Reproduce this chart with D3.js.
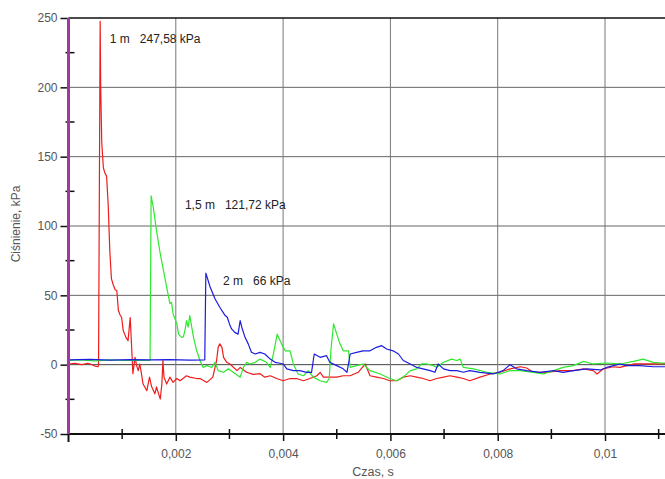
<!DOCTYPE html>
<html><head><meta charset="utf-8">
<script src="https://cdn.jsdelivr.net/npm/d3@7/dist/d3.min.js"></script>
<style>body{margin:0;background:#fff}svg{display:block}text{font-family:"Liberation Sans",Arial,sans-serif}</style>
</head><body><svg id="c" width="665" height="479"></svg>
<script>
// ---- data (time in s, pressure in kPa) ----
const redT = [0,0.00012,0.00025,0.00036,0.00044,0.00049,0.00055,0.00056,0.00059,0.00060,0.00062,0.00065,0.00068,0.00071,0.00074,0.00077,0.00080,0.00083,0.00087,0.00090,0.00093,0.00096,0.00099,0.00102,0.00107,0.00111,0.00115,0.00118,0.00120,0.00124,0.00127,0.00130,0.00133,0.00136,0.00139,0.00146,0.00151,0.00155,0.00161,0.00164,0.00171,0.00174,0.00176,0.00178,0.00183,0.00189,0.00195,0.00202,0.00208,0.00220,0.00226,0.00239,0.00245,0.00258,0.00269,0.00276,0.00279,0.00282,0.00286,0.00289,0.00295,0.00301,0.00314,0.00320,0.00332,0.00344,0.00357,0.00366,0.00376,0.00388,0.00400,0.00413,0.00425,0.00438,0.00450,0.00463,0.00469,0.00475,0.00487,0.00500,0.00512,0.00525,0.00540,0.00553,0.00562,0.00574,0.00587,0.00599,0.00612,0.00624,0.00637,0.00649,0.00661,0.00674,0.00686,0.00699,0.00711,0.00724,0.00736,0.00748,0.00767,0.00786,0.00804,0.00823,0.00842,0.00854,0.00866,0.00891,0.00916,0.00941,0.00960,0.00978,0.00985,0.00997,0.01015,0.01028,0.01053,0.01078,0.01102,0.01112];
const redV = [0.5,1,0,1,0,-1,-1.5,0,247.58,200,160,142,138,136,115,82,62,58,54,53.5,39,36,34,24.6,19.7,17.3,34,10,-6.5,5.3,-0.7,-4.3,0.5,-6.7,-14,-18.8,-9,-16,-21,-16,-24.8,-14,3,-9,-14,-9,-12.8,-10,-11.6,-8,-9,-10,-10,-12.8,-9,3,12.5,15,12.5,5.3,1.7,0.5,-4.3,-2,-5.5,-7,-6.5,-9,-8,-10,-11.6,-10,-10,-11.6,-10,-8,-5.5,-9,-9,-9,-8,-8,-5.5,0.5,-8,-9,-10,-11.6,-11.6,-9,-8,-9,-10,-11.6,-10,-9,-8,-9,-10,-11.6,-9,-6.7,-5.5,-3,-1.5,-2.4,-5.5,-5.5,-4.3,-4.3,-3,-4.3,-6.7,-3,-1.5,-2,0.5,0.5,0.5,1];

const greenT = [0,0.00021,0.00049,0.00077,0.00105,0.00133,0.00151,0.00152,0.00154,0.00158,0.00164,0.00171,0.00177,0.00183,0.00189,0.00192,0.00195,0.00202,0.00205,0.00211,0.00214,0.00217,0.00220,0.00223,0.00226,0.00233,0.00239,0.00245,0.00251,0.00258,0.00267,0.00273,0.00279,0.00289,0.00298,0.00307,0.00320,0.00326,0.00332,0.00338,0.00348,0.00357,0.00369,0.00376,0.00382,0.00389,0.00397,0.00404,0.00413,0.00419,0.00428,0.00438,0.00447,0.00456,0.00469,0.00481,0.00486,0.00489,0.00494,0.00500,0.00506,0.00512,0.00522,0.00525,0.00537,0.00549,0.00562,0.00581,0.00599,0.00612,0.00624,0.00637,0.00649,0.00658,0.00668,0.00680,0.00686,0.00699,0.00714,0.00724,0.00730,0.00736,0.00755,0.00780,0.00804,0.00823,0.00842,0.00866,0.00885,0.00904,0.00922,0.00941,0.00960,0.00978,0.01003,0.01028,0.01053,0.01071,0.01090,0.01112];
const greenV = [3,3.5,2.8,3.4,3,3.3,3,3,121.72,113.6,96.8,80,68,56,44,45,36.6,29.4,22,19.7,20,24.6,31.8,27,35.4,19.7,10,3,-2,-0.7,-2,1.7,-4.3,-5.5,-3,-5.5,-9,-2,1.7,0.5,1.7,4,1.7,-2,8,22,15,10,10,0.5,-6.7,-8,-4.3,-9,-11.6,-12.8,-10,10,29.4,22,15,10,10,-2,-0.7,0.5,-4.3,-6.7,-10,-11.6,-9,-4.3,-3,0.5,0.5,-0.7,-2,1.7,4,3,4,-2,-3,-5.5,-6.7,-4.3,-4.3,-5.5,-6.7,-4.3,-2,-0.7,2.4,0.5,1.2,0.5,2.4,4,1.7,1];

const blueT = [0,0.00040,0.00077,0.00115,0.00152,0.00189,0.00226,0.00254,0.00256,0.00264,0.00273,0.00282,0.00292,0.00296,0.00300,0.00304,0.00310,0.00316,0.00320,0.00323,0.00329,0.00335,0.00341,0.00348,0.00357,0.00366,0.00376,0.00385,0.00394,0.00400,0.00407,0.00419,0.00431,0.00444,0.00453,0.00458,0.00469,0.00481,0.00487,0.00500,0.00512,0.00519,0.00525,0.00537,0.00549,0.00562,0.00574,0.00584,0.00593,0.00605,0.00615,0.00624,0.00637,0.00649,0.00661,0.00674,0.00683,0.00689,0.00699,0.00711,0.00724,0.00736,0.00748,0.00767,0.00792,0.00810,0.00823,0.00835,0.00854,0.00879,0.00904,0.00922,0.00941,0.00966,0.00991,0.01003,0.01028,0.01040,0.01065,0.01090,0.01112];
const blueV = [3.5,3.8,3.3,3.7,3.4,3.6,3.3,3.5,66,56,47.5,41.4,35.4,34.2,29.4,25.8,23.3,22,31.8,27,19.7,15,8.9,7.7,8.9,7.7,4,1.7,1,0.5,-3,-4.3,-4.3,-5.5,-5.5,7.7,5.3,6.5,1.7,-0.7,-3,-5.5,7.7,8.9,10,10,12.5,13.7,11.3,10,7.7,3,0.5,-2,-3,-4.3,-5.5,0.5,-3,-4.3,-4.3,-5.5,-4.3,-5.5,-6.7,-4.3,0,-3,-4.3,-5.5,-4.3,-5.5,-4.3,-3,-3.8,-2,0.5,-0.7,-0.7,-1.5,-1.5];

const seriesNames = ["1 m","1,5 m","2 m"];
const peakLabels = ["247,58 kPa","121,72 kPa","66 kPa"];
const yMajor = [-50,0,50,100,150,200,250];
const yMinor = [-25,25,75,125,175,225];
const xMajor = [0.002,0.004,0.006,0.008,0.01];
const xTickLabels = ["0,002","0,004","0,006","0,008","0,01"];
const xMinor = [0.001,0.003,0.005,0.007,0.009,0.011];

// ---- drawing ----
const svg = d3.select("#c");
const L=68.5, R=665, T=18, B=434;
const x = d3.scaleLinear().domain([0,0.011118]).range([L,R]);
const y = d3.scaleLinear().domain([-50,250]).range([B,T]);

// grid
const g = svg.append("g");
g.selectAll(".hg").data([0,50,100,150,200]).join("line")
  .attr("x1",L).attr("x2",R).attr("y1",d=>y(d)).attr("y2",d=>y(d))
  .attr("stroke",d=>d===0?"#444":"#666").attr("stroke-width",1);
g.selectAll(".vg").data(xMajor).join("line")
  .attr("x1",d=>x(d)).attr("x2",d=>x(d)).attr("y1",T).attr("y2",B)
  .attr("stroke","#777").attr("stroke-width",1);

// series
const colors = ["#ee1c1c","#2ee82e","#1c1ce0"];
const sets = [[redT,redV],[greenT,greenV],[blueT,blueV]];
const line = d3.line().x(d=>x(d[0])).y(d=>y(d[1]));
sets.forEach((s,i)=>{
  const pts = s[0].map((t,k)=>[t,s[1][k]]);
  svg.append("path").attr("d",line(pts)).attr("fill","none")
    .attr("stroke",colors[i]).attr("stroke-width",1.2).attr("stroke-linejoin","round");
});

// top border
svg.append("line").attr("x1",L).attr("x2",R).attr("y1",T).attr("y2",T).attr("stroke","#111").attr("stroke-width",1.5);

// y axis
const yAx = svg.append("g").attr("transform",`translate(${L},0)`)
  .call(d3.axisLeft(y).tickValues(yMajor).tickSize(8).tickPadding(3).tickFormat(d=>String(d)));
yAx.select(".domain").remove();
yAx.selectAll(".tick line").attr("stroke","#111").attr("stroke-width",1.5);
yAx.selectAll(".tick text").attr("fill","#555").attr("font-size",12).attr("font-family","Liberation Sans, Arial, sans-serif");
svg.selectAll(".ymin").data(yMinor).join("line")
  .attr("x1",L-3).attr("x2",L+6).attr("y1",d=>y(d)).attr("y2",d=>y(d))
  .attr("stroke","#111").attr("stroke-width",1.5);

// x axis
const xAx = svg.append("g").attr("transform",`translate(0,${B})`)
  .call(d3.axisBottom(x).tickValues(xMajor).tickSize(7).tickPadding(8).tickFormat((d,i)=>xTickLabels[i]));
xAx.select(".domain").remove();
xAx.selectAll(".tick line").attr("stroke","#111").attr("stroke-width",1.5);
xAx.selectAll(".tick text").attr("fill","#555").attr("font-size",12).attr("font-family","Liberation Sans, Arial, sans-serif");
svg.selectAll(".xmin").data(xMinor).join("line")
  .attr("x1",d=>x(d)).attr("x2",d=>x(d)).attr("y1",B-5).attr("y2",B+5)
  .attr("stroke","#111").attr("stroke-width",1.5);
svg.append("line").attr("x1",L-1).attr("x2",R).attr("y1",B).attr("y2",B).attr("stroke","#111").attr("stroke-width",2);
svg.append("line").attr("x1",L).attr("x2",L).attr("y1",B).attr("y2",B+8).attr("stroke","#111").attr("stroke-width",2);
// purple y axis line
svg.append("line").attr("x1",L).attr("x2",L).attr("y1",T).attr("y2",B).attr("stroke","#a2379f").attr("stroke-width",3);

// axis titles
svg.append("text").attr("x",373).attr("y",476).attr("text-anchor","middle")
  .attr("fill","#555").attr("font-size",12.5).text("Czas, s");
svg.append("text").attr("transform","translate(20,224) rotate(-90)").attr("text-anchor","middle")
  .attr("fill","#555").attr("font-size",12).text("Ciśnienie, kPa");

// annotations
const ann = [[0.00077,232],[0.00217,112],[0.00288,57.5]];
ann.forEach((a,i)=>{
  svg.append("text").attr("x",x(a[0])).attr("y",y(a[1])).attr("fill","#222").attr("font-size",12)
    .attr("xml:space","preserve").style("white-space","pre").text(seriesNames[i]+"   "+peakLabels[i]);
});
</script></body></html>
